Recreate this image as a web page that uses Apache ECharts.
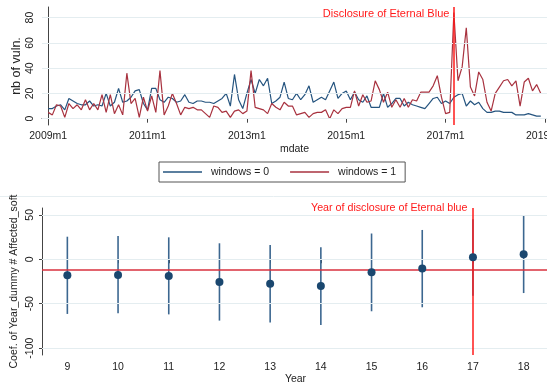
<!DOCTYPE html>
<html>
<head>
<meta charset="utf-8">
<script src="https://cdn.jsdelivr.net/npm/echarts@6/dist/echarts.min.js"></script>
<style>html,body{margin:0;padding:0;background:#fff}#c{width:547px;height:387px}</style>
</head>
<body>
<div id="c"></div>
<script>
// ---- data: top panel (monthly, index 0 = 2009m1) ----
const win0 = [
  8, 8, 10, 11, 7, 16, 14, 12, 11, 11,
  14, 10, 11, 10, 20, 10, 13, 24, 13, 14,
  17, 22, 23, 12, 7, 24, 24, 15, 13, 17,
  16, 13, 14, 19, 13, 12, 14, 14, 13, 13,
  12, 14, 16, 20, 10, 35, 15, 8, 20, 31,
  20, 31, 26, 32, 12, 14, 17, 29, 16, 15,
  20, 15, 19, 26, 13, 15, 17, 15, 22, 29,
  16, 20, 22, 15, 21, 15, 13, 18, 9, 9,
  9, 20, 9, 12, 16, 16, 10, 13, 11, 10,
  9, 8, 12, 16, 17, 12, 14, 12, 17, 19,
  20, 10, 14, 11, 13, 8, 5, 5, 6, 6,
  5, 5, 5, 3, 3, 3, 4, 3, 2, 2
];
const win1 = [
  5, 3, 11, 10, 1, 12, 8, 11, 7, 15,
  7, 12, 7, 19, 5, 19, 4, 11, 3, 36,
  12, 16, 1, 17, 6, 18, 5, 38, 3, 10,
  20, 12, 3, 9, 8, 9, 7, 7, 4, 1,
  10, 9, 5, 6, 1, 6, 7, 4, 6, 38,
  9, 8, 7, 4, 12, 9, 7, 13, 10, 10,
  3, 4, 5, 1, 4, 5, 5, 7, 0, 7,
  4, 8, 9, 9, 22, 10, 19, 13, 14, 30,
  23, 13, 21, 9, 15, 9, 16, 9, 15, 14,
  21, 21, 21, 26, 34, 17, 4, 5, 84, 30,
  41, 72, 25, 18, 37, 31, 13, 6, 20, 25,
  30, 31, 26, 30, 10, 29, 32, 22, 27, 20
];
const xTickValues = [0, 24, 48, 72, 96, 120];
const xTickLabels = ['2009m1', '2011m1', '2013m1', '2015m1', '2017m1', '2019m1'];
const yTickValuesTop = [0, 20, 40, 60, 80];
const eventMonth = 98;

// ---- data: bottom panel ----
const years = [9, 10, 11, 12, 13, 14, 15, 16, 17, 18];
const coef = [-18, -17.7, -18.8, -25.5, -27.4, -30, -14.7, -10.5, 2.2, 5.6];
const ciLow = [-61.5, -60.8, -62, -69, -71, -74, -58.5, -54, -41, -38];
const ciHigh = [25.4, 26.2, 24.7, 18, 16, 13.5, 29, 33, 45, 49];
const yTickValuesBottom = [-100, -50, 0, 50];
const eventYear = 17;
const refLine = -12;

const FONT = 'Liberation Sans, Arial, Helvetica, sans-serif';
const BLUE = '#25547f';
const RED = '#a8323f';
const AXIS = '#444';
const GRIDC = '#e4edf0';

const chart = echarts.init(document.getElementById('c'), null, {renderer: 'canvas'});

const lineData0 = win0.map((v, i) => [i, v]);
const lineData1 = win1.map((v, i) => [i, v]);

function gridLines(vals) {
  return {
    silent: true, symbol: 'none', animation: false,
    label: {show: false},
    lineStyle: {color: GRIDC, width: 1, type: 'solid'},
    data: vals.map(v => ({yAxis: v}))
  };
}

const option = {
  animation: false,
  backgroundColor: '#fff',
  textStyle: {fontFamily: FONT},
  graphic: [{
    type: 'line', silent: true,
    shape: {x1: 0, y1: 196.5, x2: 547, y2: 196.5},
    style: {stroke: '#e6eef1', lineWidth: 1}
  }],
  legend: {
    data: ['windows = 0', 'windows = 1'],
    left: 159, top: 162,
    orient: 'horizontal',
    icon: 'rect',
    borderColor: '#555', borderWidth: 1,
    padding: [4, 9, 4, 4],
    itemWidth: 39, itemHeight: 1.5, itemGap: 21,
    textStyle: {fontFamily: FONT, fontSize: 10.5, color: '#222', padding: [0, 0, 0, 4], lineHeight: 12}
  },
  grid: [
    {left: 42, right: 0, top: 7, height: 118, containLabel: false, outerBoundsMode: 'none'},
    {left: 42, right: -2, top: 208, height: 147, containLabel: false, outerBoundsMode: 'none'}
  ],
  xAxis: [
    {
      gridIndex: 0, type: 'value', min: -1.5, max: 120.5,
      name: 'mdate', nameLocation: 'middle', nameGap: 19,
      nameTextStyle: {fontFamily: FONT, fontSize: 10.5, color: '#222'},
      axisLine: {show: true, lineStyle: {color: AXIS, width: 1}},
      axisTick: {show: true, length: 4, customValues: xTickValues, lineStyle: {color: AXIS}},
      axisLabel: {
        customValues: xTickValues, margin: 6, hideOverlap: false,
        fontFamily: FONT, fontSize: 10.5, color: '#222',
        formatter: v => xTickLabels[xTickValues.indexOf(v)] || ''
      },
      splitLine: {show: false}
    },
    {
      gridIndex: 1, type: 'value', min: 8.5, max: 18.5,
      name: 'Year', nameLocation: 'middle', nameGap: 17,
      nameTextStyle: {fontFamily: FONT, fontSize: 10.5, color: '#222'},
      axisLine: {show: true, lineStyle: {color: AXIS, width: 1}},
      axisTick: {show: true, length: 4, customValues: years, lineStyle: {color: AXIS}},
      axisLabel: {customValues: years, margin: 7, fontFamily: FONT, fontSize: 10.5, color: '#222'},
      splitLine: {show: false}
    }
  ],
  yAxis: [
    {
      gridIndex: 0, type: 'value', min: -5, max: 88.4,
      name: 'nb of vuln.', nameLocation: 'middle', nameGap: 19, nameRotate: 90, nameMoveOverlap: false,
      nameTextStyle: {fontFamily: FONT, fontSize: 12.5, color: '#222'},
      axisLine: {show: true, lineStyle: {color: AXIS, width: 1}},
      axisTick: {show: true, length: 3, customValues: yTickValuesTop, lineStyle: {color: AXIS}},
      axisLabel: {customValues: yTickValuesTop, rotate: 90, margin: 6, fontFamily: FONT, fontSize: 10.5, color: '#222'},
      splitLine: {show: false}
    },
    {
      gridIndex: 1, type: 'value', min: -107.7, max: 57.7,
      name: 'Coef. of Year_dummy # Affected_soft', nameLocation: 'middle', nameGap: 22, nameRotate: 90, nameMoveOverlap: false,
      nameTextStyle: {fontFamily: FONT, fontSize: 10.5, color: '#222'},
      axisLine: {show: true, lineStyle: {color: AXIS, width: 1}},
      axisTick: {show: true, length: 3, customValues: yTickValuesBottom, lineStyle: {color: AXIS}},
      axisLabel: {customValues: yTickValuesBottom, rotate: 90, margin: 6, fontFamily: FONT, fontSize: 10.5, color: '#222'},
      splitLine: {show: false}
    }
  ],
  series: [
    { // grid lines top
      type: 'line', xAxisIndex: 0, yAxisIndex: 0, data: [], z: 0, silent: true,
      markLine: gridLines(yTickValuesTop)
    },
    { // grid lines bottom
      type: 'line', xAxisIndex: 1, yAxisIndex: 1, data: [], z: 0, silent: true,
      markLine: gridLines(yTickValuesBottom)
    },
    {
      name: 'windows = 0', type: 'line', xAxisIndex: 0, yAxisIndex: 0,
      data: lineData0, symbol: 'none', showSymbol: false, z: 3,
      lineStyle: {color: BLUE, width: 1.2}, itemStyle: {color: BLUE}
    },
    {
      name: 'windows = 1', type: 'line', xAxisIndex: 0, yAxisIndex: 0,
      data: lineData1, symbol: 'none', showSymbol: false, z: 4,
      lineStyle: {color: RED, width: 1.2}, itemStyle: {color: RED},
      markLine: {
        silent: true, symbol: 'none', label: {show: false},
        lineStyle: {color: '#ff1a1a', width: 1.5, type: 'solid'},
        data: [{xAxis: eventMonth}]
      },
      markPoint: {
        silent: true, symbol: 'circle', symbolSize: 1,
        itemStyle: {color: 'rgba(0,0,0,0)'},
        label: {show: true, position: 'left', distance: 4, color: '#ff1a1a',
                fontFamily: FONT, fontSize: 11, formatter: 'Disclosure of Eternal Blue'},
        data: [{coord: [eventMonth, 83.2]}]
      }
    },
    { // reference lines bottom
      type: 'line', xAxisIndex: 1, yAxisIndex: 1, data: [], z: 1, silent: true,
      markLine: {
        silent: true, symbol: 'none', label: {show: false},
        lineStyle: {color: '#d9303e', width: 1.5, type: 'solid'},
        data: [{yAxis: refLine}, {xAxis: eventYear, lineStyle: {color: '#ff1a1a', width: 1.5}}]
      },
      markPoint: {
        silent: true, symbol: 'circle', symbolSize: 1,
        itemStyle: {color: 'rgba(0,0,0,0)'},
        label: {show: true, position: 'left', distance: 5, color: '#ff1a1a',
                fontFamily: FONT, fontSize: 10.7, formatter: 'Year of disclosure of Eternal blue'},
        data: [{coord: [eventYear, 57.7]}]
      }
    },
    {
      type: 'custom', xAxisIndex: 1, yAxisIndex: 1, z: 2, silent: true,
      data: years.map((y, i) => [y, ciLow[i], ciHigh[i]]),
      encode: {x: 0, y: [1, 2]},
      renderItem: function (params, api) {
        const x = api.value(0), lo = api.value(1), hi = api.value(2);
        const p1 = api.coord([x, lo]);
        const p2 = api.coord([x, hi]);
        return {
          type: 'line',
          shape: {x1: p1[0], y1: p1[1], x2: p2[0], y2: p2[1]},
          style: {stroke: '#3c6790', lineWidth: 1.6}
        };
      }
    },
    {
      type: 'scatter', xAxisIndex: 1, yAxisIndex: 1, z: 5, silent: true,
      data: years.map((y, i) => [y, coef[i]]),
      symbol: 'circle', symbolSize: 8,
      itemStyle: {color: '#1a476f', opacity: 1}
    }
  ]
};
chart.setOption(option);
</script>
</body>
</html>
